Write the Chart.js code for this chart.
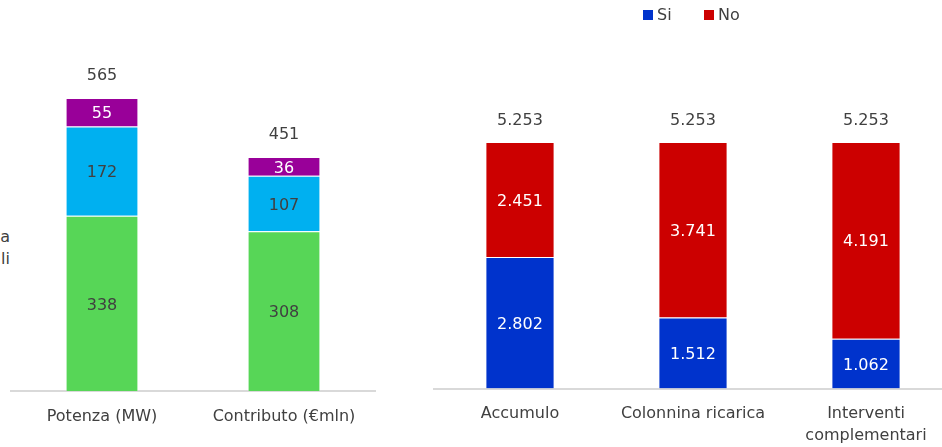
<!DOCTYPE html>
<html>
<head>
<meta charset="utf-8">
<script src="https://cdn.jsdelivr.net/npm/chart.js@4"></script>
<style>
  html, body { margin: 0; padding: 0; background: #fff; overflow: hidden; }
  body { width: 942px; height: 447px; position: relative; font-family: "DejaVu Sans", sans-serif; color: #404040; }
  #leftBox { position: absolute; left: 0; top: 0; width: 380px; height: 447px; }
  #rightBox { position: absolute; left: 430px; top: 0; width: 530px; height: 447px; }
  .cut { position: absolute; left: -40px; width: 50px; text-align: right; font-size: 16px; line-height: 22px; top: 226px; }
  .legend { position: absolute; top: 4px; font-size: 16px; line-height: 22px; white-space: nowrap; }
  .legend span.sq { display: inline-block; width: 10px; height: 10px; vertical-align: 0px; margin-right: 4px; }
</style>
</head>
<body>
<div class="cut">a<br>li</div>
<div id="leftBox"><canvas id="leftChart"></canvas></div>
<div id="rightBox"><canvas id="rightChart"></canvas></div>
<div class="legend" style="left:643px"><span class="sq" style="background:#0033CC"></span>Si</div>
<div class="legend" style="left:704px"><span class="sq" style="background:#CC0000"></span>No</div>
<script>
// Left chart data
const leftLabels = ["Potenza (MW)", "Contributo (€mln)"];
const leftBottom = [338, 308];
const leftMiddle = [172, 107];
const leftTop = [55, 36];
const leftTotals = [565, 451];

// Right chart data
const rightLabels = ["Accumulo", "Colonnina ricarica", ["Interventi", "complementari"]];
const rightSi = [2802, 1512, 1062];
const rightNo = [2451, 3741, 4191];
const rightTotals = [5253, 5253, 5253];

const textColor = "#404040";
const fontFamily = "'DejaVu Sans', sans-serif";

function fmt(n) {
  return String(n).replace(/\B(?=(\d{3})+(?!\d))/g, ".");
}

// draws the value inside each segment and the total above each bar
const barLabels = {
  id: "barLabels",
  afterDatasetsDraw(chart, args, opts) {
    const ctx = chart.ctx;
    ctx.save();
    ctx.font = "16px " + fontFamily;
    ctx.textAlign = "center";
    ctx.textBaseline = "middle";
    chart.data.datasets.forEach((ds, i) => {
      const meta = chart.getDatasetMeta(i);
      meta.data.forEach((bar, j) => {
        ctx.fillStyle = ds.labelColor;
        ctx.fillText(fmt(ds.data[j]), bar.x, (bar.y + bar.base) / 2 + 2);
      });
    });
    const last = chart.getDatasetMeta(chart.data.datasets.length - 1);
    ctx.fillStyle = textColor;
    last.data.forEach((bar, j) => {
      ctx.fillText(fmt(opts.totals[j]), bar.x, bar.y - opts.gap);
    });
    ctx.restore();
  },
};

function makeOptions(max, padding, axisHeight, totals, gap) {
  return {
    responsive: true,
    maintainAspectRatio: false,
    animation: false,
    layout: { padding: padding },
    plugins: {
      legend: { display: false },
      tooltip: { enabled: false },
      barLabels: { totals: totals, gap: gap },
    },
    scales: {
      x: {
        stacked: true,
        grid: { display: false, drawTicks: false },
        border: { display: true, color: "#d9d9d9", width: 2 },
        ticks: { color: textColor, font: { size: 16, family: fontFamily, lineHeight: 1.35 }, padding: 15, maxRotation: 0, autoSkip: false },
        afterFit(scale) { scale.height = axisHeight; },
      },
      y: {
        stacked: true,
        display: false,
        min: 0,
        max: max,
      },
    },
  };
}

const barStyle = { categoryPercentage: 1, barPercentage: 0.4, borderWidth: 1, borderColor: "rgba(255,255,255,0.45)" };

new Chart(document.getElementById("leftChart"), {
  type: "bar",
  data: {
    labels: leftLabels,
    datasets: [
      Object.assign({ label: "Serie 1", data: leftBottom, backgroundColor: "#57D657", labelColor: textColor }, barStyle),
      Object.assign({ label: "Serie 2", data: leftMiddle, backgroundColor: "#00B0F0", labelColor: textColor }, barStyle),
      Object.assign({ label: "Serie 3", data: leftTop, backgroundColor: "#990099", labelColor: "#ffffff" }, barStyle),
    ],
  },
  options: makeOptions(700, { top: 28, left: 11, right: 5, bottom: 0 }, 56, leftTotals, 22),
  plugins: [barLabels],
});

new Chart(document.getElementById("rightChart"), {
  type: "bar",
  data: {
    labels: rightLabels,
    datasets: [
      Object.assign({ label: "Si", data: rightSi, backgroundColor: "#0033CC", labelColor: "#ffffff" }, barStyle),
      Object.assign({ label: "No", data: rightNo, backgroundColor: "#CC0000", labelColor: "#ffffff" }, barStyle),
    ],
  },
  options: makeOptions(7000, { top: 60, left: 3.5, right: 7.5, bottom: 0 }, 58.5, rightTotals, 21),
  plugins: [barLabels],
});
</script>
</body>
</html>
